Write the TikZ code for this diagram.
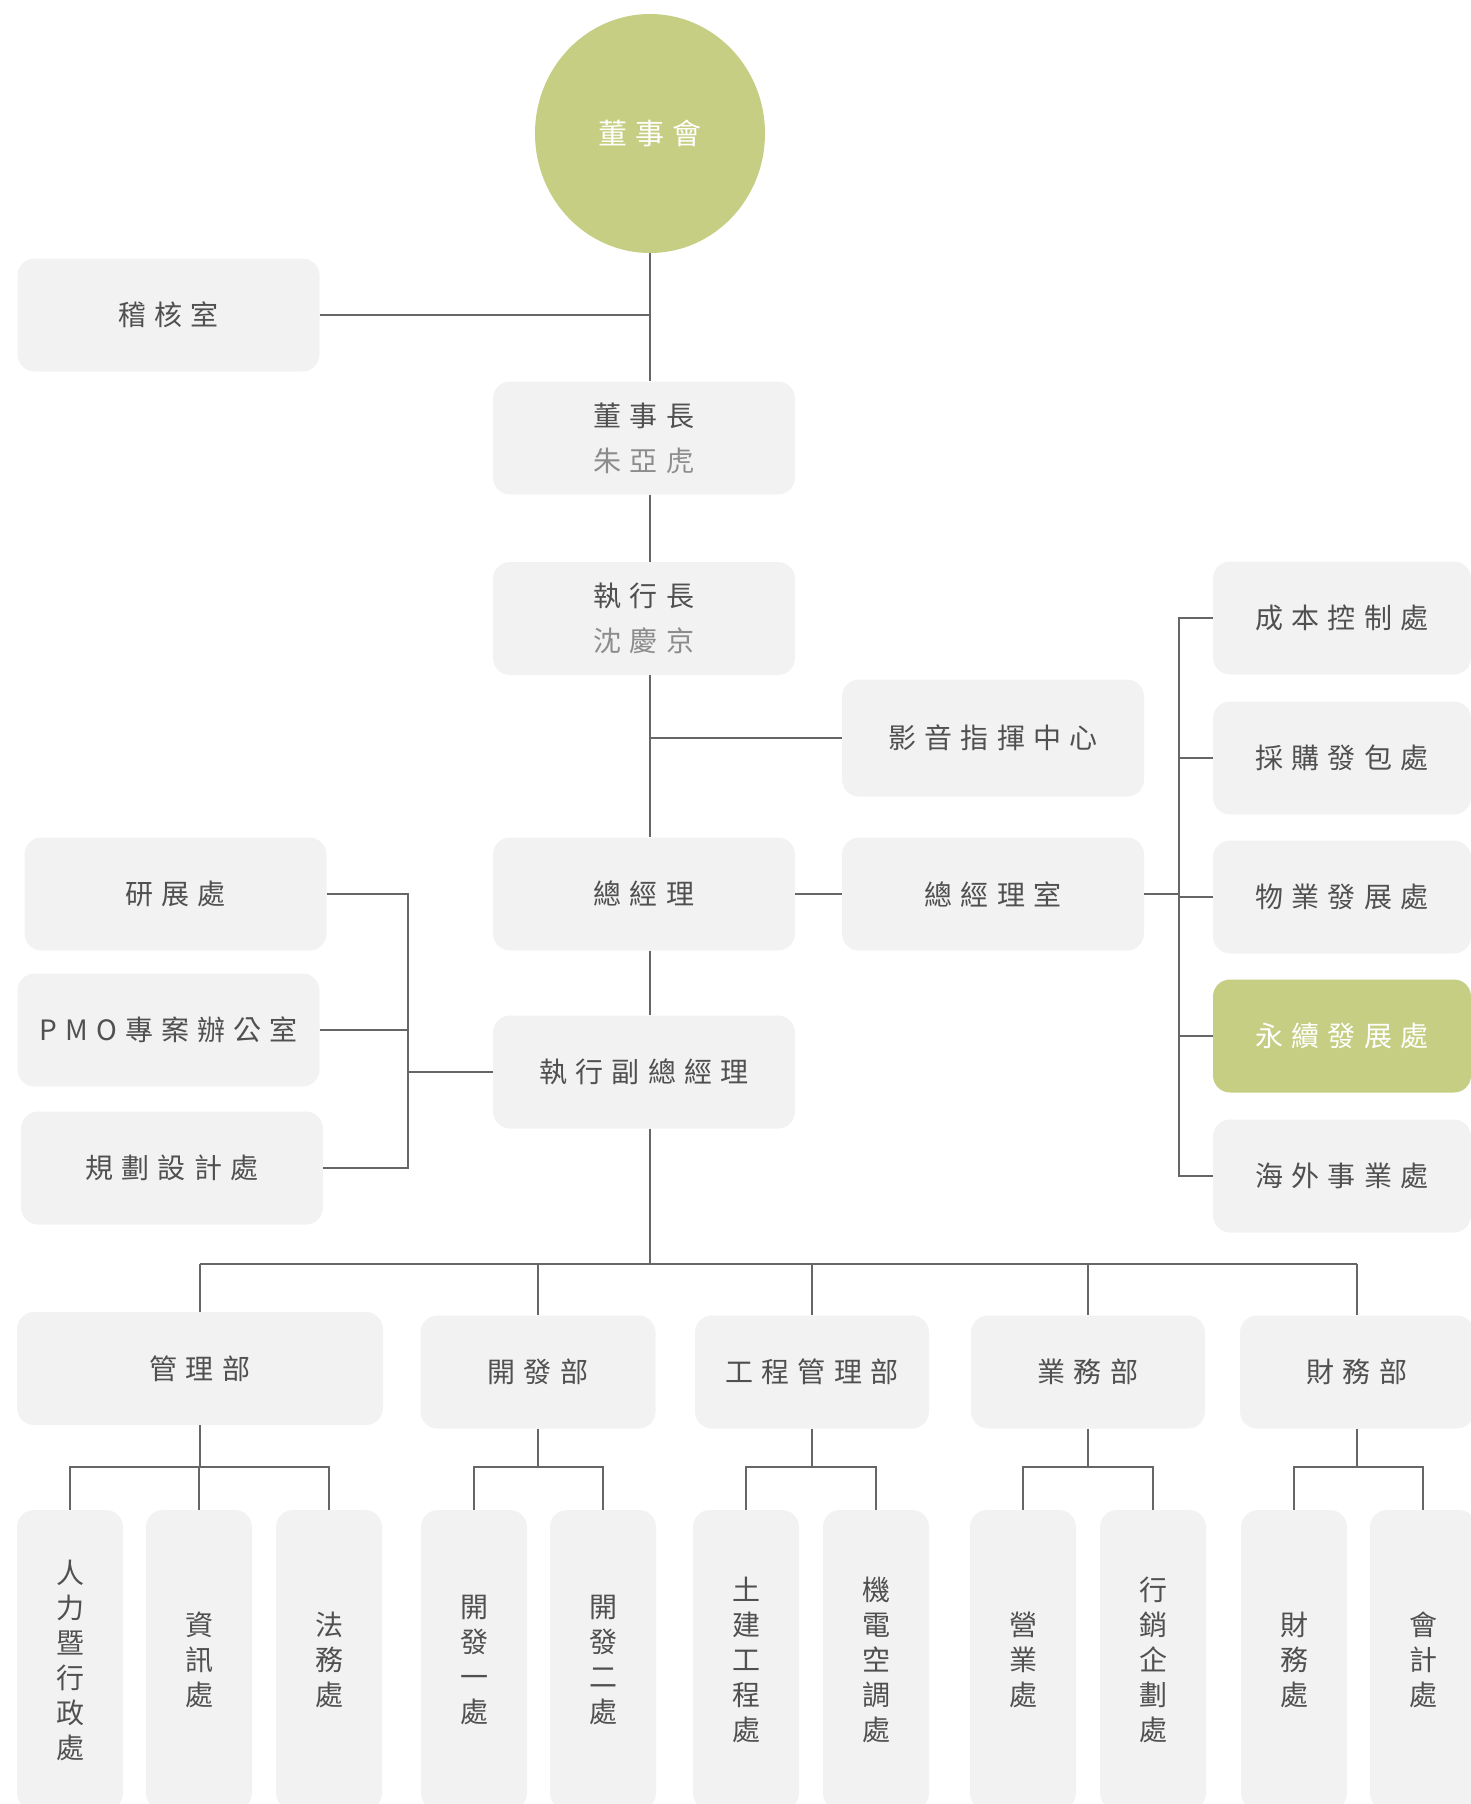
\documentclass[tikz,border=0pt]{standalone}
\usepackage{fontspec}
\newfontfamily\cjk[LetterSpace=29]{Noto Sans CJK TC}
\usetikzlibrary{shapes.geometric}
\definecolor{leaf}{HTML}{C5CE82}
\definecolor{boxgray}{HTML}{F2F2F2}
\definecolor{ink}{HTML}{505050}
\definecolor{muted}{HTML}{8C8C8C}
\definecolor{wire}{HTML}{666666}
\tikzset{
  orgbox/.style={fill=boxgray,rounded corners=17pt,inner sep=0pt,text=ink,align=center,
    font=\cjk\fontsize{28}{35}\selectfont,minimum width=302pt,minimum height=113pt},
  leafbox/.style={orgbox,fill=leaf,text=white},
  sidebox/.style={orgbox,minimum width=258pt},
  deptbox/.style={orgbox,minimum width=#1},
  deptbox/.default=234pt,
  secbox/.style={orgbox,minimum width=106pt,minimum height=300pt},
  wireline/.style={draw=wire,line width=2pt},
}
\begin{document}
\begin{tikzpicture}[x=1pt,y=-1pt]
  \useasboundingbox (0,0) rectangle (1471,1804);
  % board and chain of command
  \node[ellipse,fill=leaf,text=white,inner sep=0pt,minimum width=230pt,minimum height=239pt,
    font=\cjk\fontsize{29}{35}\selectfont] (board) at (650,133.5) {董事會};
  \node[orgbox] (audit) at (168.5,315) {稽核室};
  \node[orgbox] (chair) at (644,438) {董事長\\[10pt]{\color{muted}朱亞虎}};
  \node[orgbox] (ceo) at (644,618.5) {執行長\\[10pt]{\color{muted}沈慶京}};
  \node[orgbox,minimum height=117pt] (av) at (993,738) {影音指揮中心};
  \node[orgbox] (gm) at (644,894) {總經理};
  \node[orgbox] (gmo) at (993,894) {總經理室};
  \node[orgbox] (evp) at (644,1072) {執行副總經理};
  % staff units of the general manager's office
  \node[sidebox] (cost) at (1342,618) {成本控制處};
  \node[sidebox] (buy) at (1342,758) {採購發包處};
  \node[sidebox] (prop) at (1342,897) {物業發展處};
  \node[leafbox,minimum width=258pt] (sust) at (1342,1036) {永續發展處};
  \node[sidebox] (overseas) at (1342,1176) {海外事業處};
  % units under the executive vice president
  \node[orgbox] (rd) at (175.5,894) {研展處};
  \node[orgbox] (pmo) at (168.5,1030) {PMO專案辦公室};
  \node[orgbox] (plan) at (172,1168) {規劃設計處};
  % departments
  \node[deptbox=366pt] (mgmt) at (200,1368.5) {管理部};
  \node[deptbox=235pt] (dev) at (538,1372) {開發部};
  \node[deptbox] (eng) at (812,1372) {工程管理部};
  \node[deptbox] (sales) at (1088,1372) {業務部};
  \node[deptbox] (fin) at (1357,1372) {財務部};
  % sections
  \node[secbox] (hr) at (70,1660) {人\\力\\暨\\行\\政\\處};
  \node[secbox] (it) at (199,1660) {資\\訊\\處};
  \node[secbox] (legal) at (329,1660) {法\\務\\處};
  \node[secbox] (devone) at (474,1660) {開\\發\\一\\處};
  \node[secbox] (devtwo) at (603,1660) {開\\發\\二\\處};
  \node[secbox] (civil) at (746,1660) {土\\建\\工\\程\\處};
  \node[secbox] (mep) at (876,1660) {機\\電\\空\\調\\處};
  \node[secbox] (biz) at (1023,1660) {營\\業\\處};
  \node[secbox] (mkt) at (1153,1660) {行\\銷\\企\\劃\\處};
  \node[secbox] (fina) at (1294,1660) {財\\務\\處};
  \node[secbox] (acct) at (1423,1660) {會\\計\\處};
  % trunk
  \draw[wireline] (board.south) -- (board.south |- chair.north);
  \draw[wireline] (audit.east) -- (audit.east -| board.south);
  \draw[wireline] (chair.south -| board.south) -- (ceo.north -| board.south);
  \draw[wireline] (ceo.south -| board.south) -- (gm.north -| board.south);
  \draw[wireline] (av.west) -- (av.west -| board.south);
  \draw[wireline] (gm.east) -- (gmo.west);
  \draw[wireline] (gm.south -| board.south) -- (evp.north -| board.south);
  % right bracket
  \coordinate (rb) at (1179,0);
  \draw[wireline] (cost.west) -| (rb |- overseas.west) -- (overseas.west);
  \foreach \n in {buy,prop,sust}
    \draw[wireline] (\n.west) -- (\n.west -| rb);
  \draw[wireline] (gmo.east) -- (gmo.east -| rb);
  % left bracket
  \coordinate (lb) at (408,0);
  \draw[wireline] (rd.east) -| (lb |- plan.east) -- (plan.east);
  \draw[wireline] (pmo.east) -- (pmo.east -| lb);
  \draw[wireline] (evp.west) -- (evp.west -| lb);
  % department bus
  \coordinate (bus) at (0,1264);
  \draw[wireline] (evp.south -| board.south) -- (board.south |- bus);
  \draw[wireline] (mgmt.north |- bus) -- (fin.north |- bus);
  \foreach \n in {mgmt,dev,eng,sales,fin}
    \draw[wireline] (\n.north) -- (\n.north |- bus);
  % section forks
  \coordinate (fork) at (0,1467);
  \draw[wireline] (mgmt.south) -- (mgmt.south |- fork);
  \draw[wireline] (hr.north) |- (legal.north |- fork) -- (legal.north);
  \draw[wireline] (it.north) -- (it.north |- fork);
  \foreach \dname/\ca/\cb in {dev/devone/devtwo,eng/civil/mep,sales/biz/mkt,fin/fina/acct}{
    \draw[wireline] (\dname.south) -- (\dname.south |- fork);
    \draw[wireline] (\ca.north) |- (\cb.north |- fork) -- (\cb.north);
  }
\end{tikzpicture}
\end{document}
